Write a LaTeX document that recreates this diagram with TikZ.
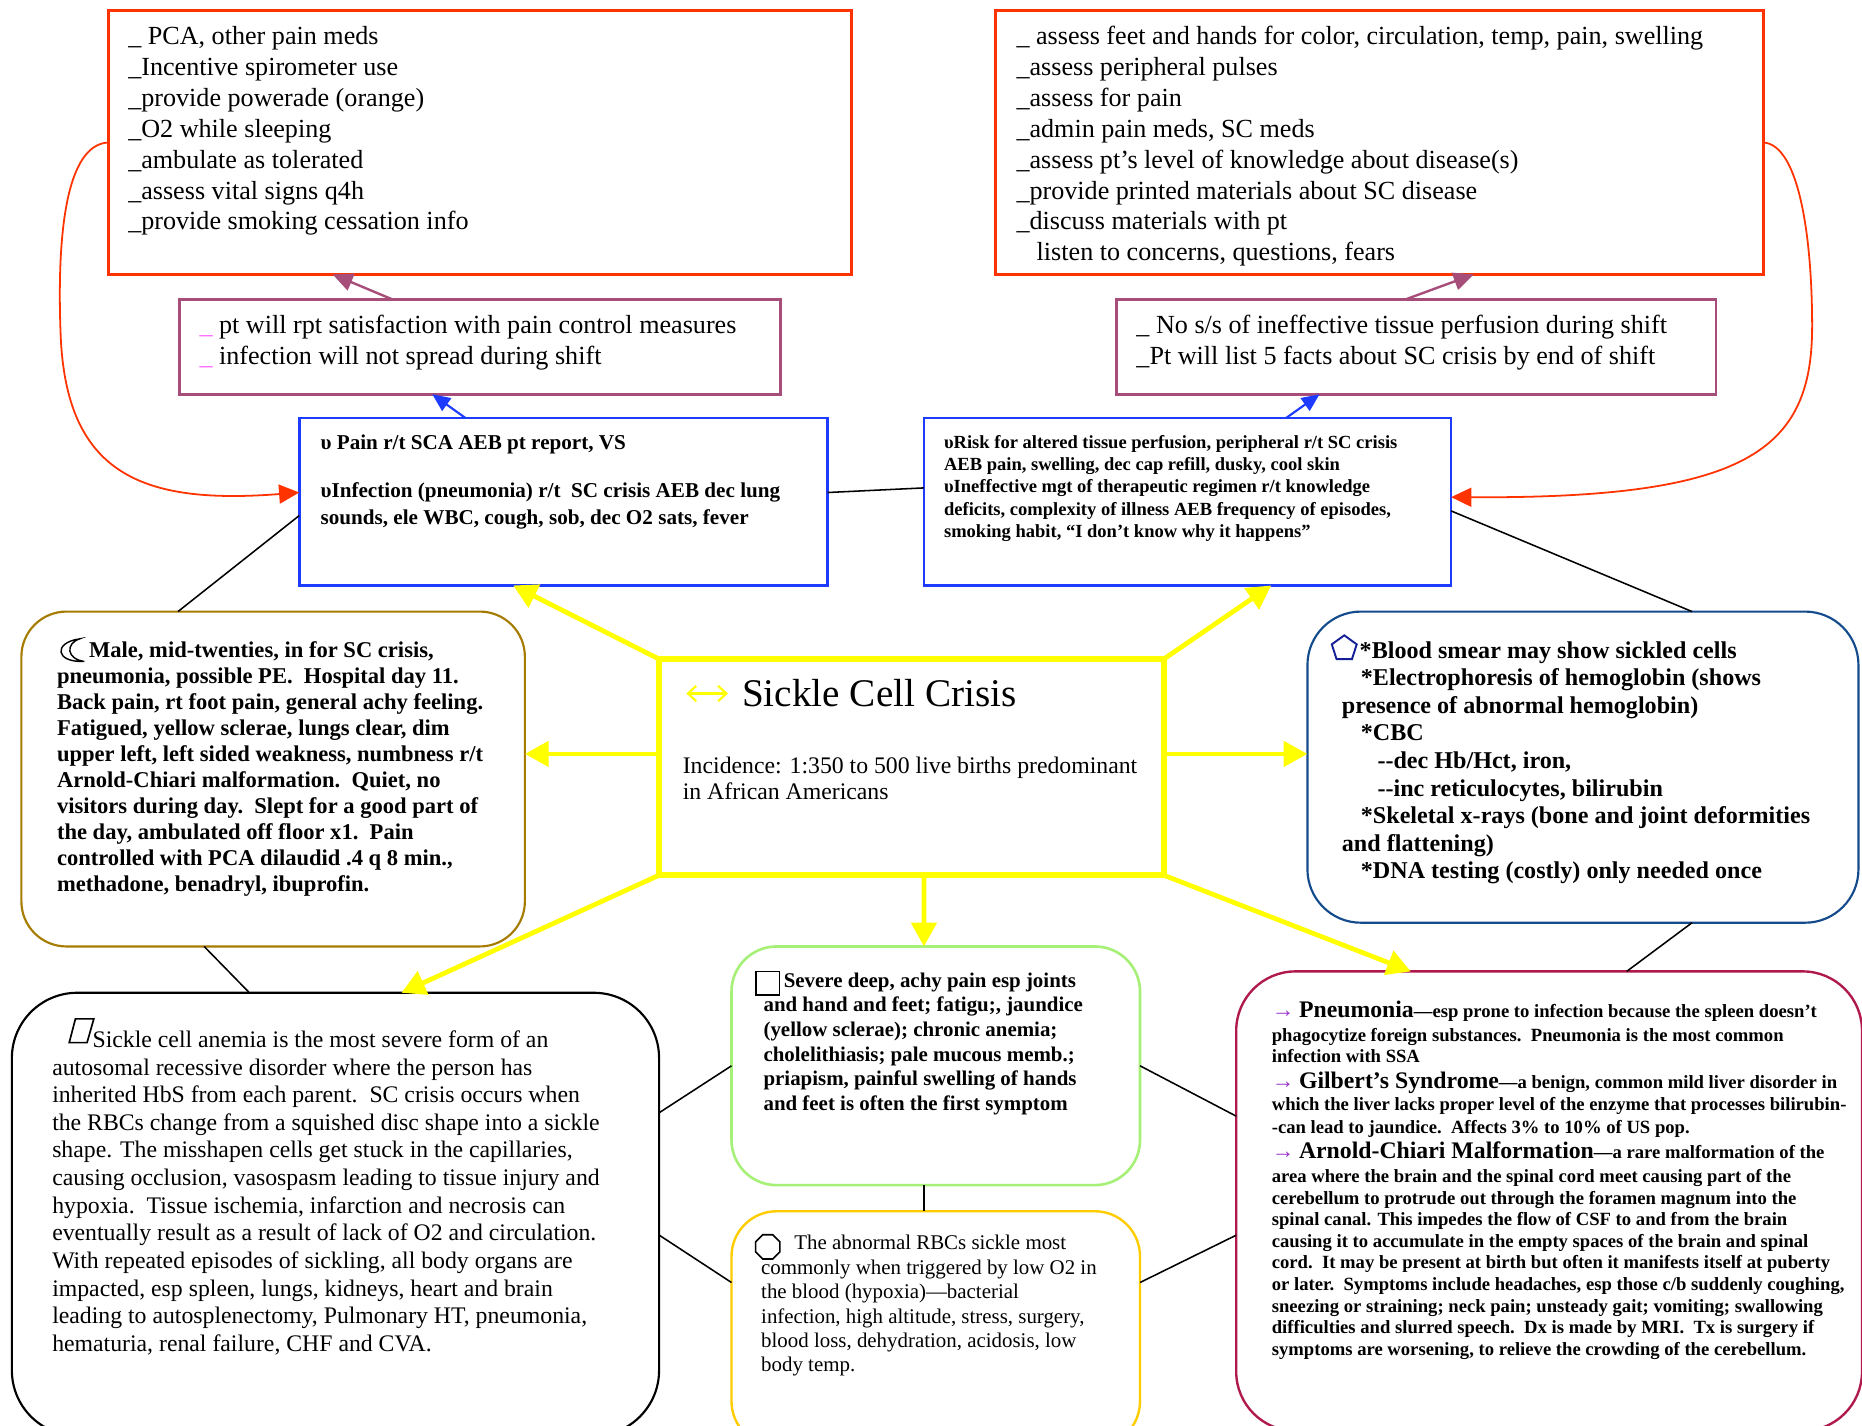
\documentclass[tikz,border=0pt]{standalone}
\usepackage{fontspec}
\setmainfont{Liberation Serif}
\usetikzlibrary{arrows.meta,calc}
\definecolor{cRed}{RGB}{255,51,0}
\definecolor{cPurp}{RGB}{166,77,121}
\definecolor{cBlue}{RGB}{30,60,255}
\definecolor{cYel}{RGB}{255,255,0}
\definecolor{cBrown}{RGB}{166,124,0}
\definecolor{cNavy}{RGB}{20,75,140}
\definecolor{cGreen}{RGB}{166,240,120}
\definecolor{cGold}{RGB}{255,204,0}
\definecolor{cCrim}{RGB}{175,25,75}
\definecolor{cPink}{RGB}{255,102,255}
\definecolor{cArr}{RGB}{153,51,204}
\definecolor{cPent}{RGB}{20,30,150}
\newcommand\mystrut{\rule{0pt}{1em}}
\newcommand\fs[2]{\fontsize{#1bp}{#2bp}\selectfont}
\begin{document}
\begin{tikzpicture}[x=1bp,y=-1bp,
 bx/.style={inner sep=0pt, outer sep=0pt, anchor=north west},
 redbx/.style={bx, draw=cRed, line width=2.5bp},
 purbx/.style={bx, draw=cPurp, line width=2.2bp},
 blubx/.style={bx, draw=cBlue, line width=2.2bp},
 cenbx/.style={bx, draw=cYel, line width=5bp},
 ptbx/.style={bx, rounded corners=38bp, draw=cBrown, line width=1.8bp},
 labbx/.style={bx, rounded corners=45bp, draw=cNavy, line width=1.8bp},
 sabx/.style={bx, rounded corners=55bp, draw=black, line width=1.8bp},
 grbx/.style={bx, rounded corners=38bp, draw=cGreen, line width=2.2bp},
 orbx/.style={bx, rounded corners=38bp, draw=cGold, line width=2bp},
 cpbx/.style={bx, rounded corners=50bp, draw=cCrim, line width=2bp},
 txt/.style={anchor=north west, inner sep=0pt, outer sep=0pt, align=left},
 yarr/.style={draw=cYel, line width=4bp, -{Triangle[length=20bp,width=21bp]}},
 barr/.style={draw=cBlue, line width=1.8bp, -{Triangle[length=15bp,width=13bp]}},
 parr/.style={draw=cPurp, line width=2bp, -{Triangle[length=17bp,width=15bp]}},
 rarr/.style={draw=cRed, line width=1.5bp, -{Triangle[length=17bp,width=16bp]}},
 kline/.style={draw=black, line width=1.3bp},
 glyph/.style={draw=black, line width=1.4bp}
]
\useasboundingbox (0,0) rectangle (1568,1200);
\clip (0,0) rectangle (1568,1200);
\fill[white] (0,0) rectangle (1568,1200);

% ---------- boxes ----------
\node[redbx, minimum width=626bp, minimum height=222bp] (TLR) at (91,9) {};
\node[redbx, minimum width=647bp, minimum height=222bp] (TRR) at (838,9) {};
\node[purbx, minimum width=506bp, minimum height=80bp] (PL) at (151,252) {};
\node[purbx, minimum width=505bp, minimum height=80bp] (PR) at (940,252) {};
\node[blubx, minimum width=445bp, minimum height=141bp] (BL) at (252,352) {};
\node[blubx, minimum width=444bp, minimum height=141bp] (BR) at (778,352) {};
\node[cenbx, minimum width=425bp, minimum height=182bp] (C) at (555,555) {};
\node[ptbx, minimum width=424bp, minimum height=282bp] (PT) at (18,515) {};
\node[labbx, minimum width=464bp, minimum height=262bp] (LB) at (1101,515) {};
\node[sabx, minimum width=545bp, minimum height=373bp] (SA) at (10,836) {};
\node[grbx, minimum width=344bp, minimum height=201bp] (G) at (616,797) {};
\node[orbx, minimum width=344bp, minimum height=198bp] (O) at (616,1020) {};
\node[cpbx, minimum width=527bp, minimum height=387bp] (CP) at (1041,818) {};

% ---------- texts ----------
\node[txt, font=\fs{22}{26}] (TLRt) at (108,15.6) {\mystrut\_ PCA, other pain meds\\
\_Incentive spirometer use\\
\_provide powerade (orange)\\
\_O2 while sleeping\\
\_ambulate as tolerated\\
\_assess vital signs q4h\\
\_provide smoking cessation info};

\node[txt, font=\fs{22}{26}] (TRRt) at (856,15.6) {\mystrut\_ assess feet and hands for color, circulation, temp, pain, swelling\\
\_assess peripheral pulses\\
\_assess for pain\\
\_admin pain meds, SC meds\\
\_assess pt’s level of knowledge about disease(s)\\
\_provide printed materials about SC disease\\
\_discuss materials with pt\\
\hspace*{17bp}listen to concerns, questions, fears};

\node[txt, font=\fs{22}{26}] (PLt) at (168,258.6) {\mystrut{\color{cPink}\_} pt will rpt satisfaction with pain control measures\\
{\color{cPink}\_} infection will not spread during shift};

\node[txt, font=\fs{22}{26}] (PRt) at (957,258.6) {\mystrut\_ No s/s of ineffective tissue perfusion during shift\\
\_Pt will list 5 facts about SC crisis by end of shift};

\node[txt, font=\bfseries\fs{17.8}{22}] (BLt) at (270,360.5) {\mystrut υ Pain r/t SCA AEB pt report, VS\\[19bp]
υInfection (pneumonia) r/t\ \ SC crisis AEB dec lung\\
sounds, ele WBC, cough, sob, dec O2 sats, fever};

\node[txt, font=\bfseries\fs{15.6}{18.7}] (BRt) at (795,362) {\mystrut υRisk for altered tissue perfusion, peripheral r/t SC crisis\\
AEB pain, swelling, dec cap refill, dusky, cool skin\\
υIneffective mgt of therapeutic regimen r/t knowledge\\
deficits, complexity of illness AEB frequency of episodes,\\
smoking habit, “I don’t know why it happens”};

\draw[draw=cYel, line width=1.8bp, {Straight Barb[length=7bp,width=13bp]}-{Straight Barb[length=7bp,width=13bp]}] (578,584) -- (613,584);
\node[txt, font=\fs{33}{36}] (Ct) at (625,561.9) {\mystrut Sickle Cell Crisis};
\node[txt, font=\fs{20}{22.5}] (Ci) at (575,631) {\mystrut Incidence: 1:350 to 500 live births predominant\\
in African Americans};

\node[txt, font=\bfseries\fs{19}{21.9}] (PTt) at (48,534.7) {\mystrut\hspace*{27bp}Male, mid-twenties, in for SC crisis,\\
pneumonia, possible PE.\ \ Hospital day 11.\\
Back pain, rt foot pain, general achy feeling.\\
Fatigued, yellow sclerae, lungs clear, dim\\
upper left, left sided weakness, numbness r/t\\
Arnold-Chiari malformation.\ \ Quiet, no\\
visitors during day.\ \ Slept for a good part of\\
the day, ambulated off floor x1.\ \ Pain\\
controlled with PCA dilaudid .4 q 8 min.,\\
methadone, benadryl, ibuprofin.};

\node[txt, font=\bfseries\fs{20.3}{23.25}] (LBt) at (1130,533.8) {\mystrut\hspace*{15bp}*Blood smear may show sickled cells\\
\hspace*{16bp}*Electrophoresis of hemoglobin (shows\\
presence of abnormal hemoglobin)\\
\hspace*{16bp}*CBC\\
\hspace*{30bp}-{}-dec Hb/Hct, iron,\\
\hspace*{30bp}-{}-inc reticulocytes, bilirubin\\
\hspace*{16bp}*Skeletal x-rays (bone and joint deformities\\
and flattening)\\
\hspace*{16bp}*DNA testing (costly) only needed once};

\node[txt, font=\fs{20}{23.27}] (SAt) at (44,862) {\mystrut\hspace*{34bp}Sickle cell anemia is the most severe form of an\\
autosomal recessive disorder where the person has\\
inherited HbS from each parent.\ \ SC crisis occurs when\\
the RBCs change from a squished disc shape into a sickle\\
shape. The misshapen cells get stuck in the capillaries,\\
causing occlusion, vasospasm leading to tissue injury and\\
hypoxia.\ \ Tissue ischemia, infarction and necrosis can\\
eventually result as a result of lack of O2 and circulation.\\
With repeated episodes of sickling, all body organs are\\
impacted, esp spleen, lungs, kidneys, heart and brain\\
leading to autosplenectomy, Pulmonary HT, pneumonia,\\
hematuria, renal failure, CHF and CVA.};

\node[txt, font=\bfseries\fs{17.6}{20.8}] (Gt) at (643,813.7) {\mystrut\hspace*{17bp}Severe deep, achy pain esp joints\\
and hand and feet; fatigu;, jaundice\\
(yellow sclerae); chronic anemia;\\
cholelithiasis; pale mucous memb.;\\
priapism, painful swelling of hands\\
and feet is often the first symptom};

\node[txt, font=\fs{17.6}{20.6}] (Ot) at (641,1034.7) {\mystrut\hspace*{28bp}The abnormal RBCs sickle most\\
commonly when triggered by low O2 in\\
the blood (hypoxia)—bacterial\\
infection, high altitude, stress, surgery,\\
blood loss, dehydration, acidosis, low\\
body temp.};

\node[txt, font=\bfseries\fs{15.7}{18.2}] (CPt) at (1071,841) {\mystrut{\mdseries\fs{19}{18}\color{cArr}→} {\fs{20}{18}Pneumonia}—esp prone to infection because the spleen doesn’t\\[2bp]
phagocytize foreign substances.\ \ Pneumonia is the most common\\[-0.5bp]
infection with SSA\\[3.4bp]
{\fs{19}{18}\color{cArr}→} {\fs{20}{18}Gilbert’s Syndrome}—a benign, common mild liver disorder in\\[0.9bp]
which the liver lacks proper level of the enzyme that processes bilirubin-\\[0.9bp]
-can lead to jaundice.\ \ Affects 3\% to 10\% of US pop.\\[2.8bp]
{\fs{19}{18}\color{cArr}→} {\fs{20}{18}Arnold-Chiari Malformation}—a rare malformation of the\\[2.1bp]
area where the brain and the spinal cord meet causing part of the\\
cerebellum to protrude out through the foramen magnum into the\\
spinal canal. This impedes the flow of CSF to and from the brain\\
causing it to accumulate in the empty spaces of the brain and spinal\\
cord.\ \ It may be present at birth but often it manifests itself at puberty\\
or later.\ \ Symptoms include headaches, esp those c/b suddenly coughing,\\
sneezing or straining; neck pain; unsteady gait; vomiting; swallowing\\
difficulties and slurred speech.\ \ Dx is made by MRI.\ \ Tx is surgery if\\
symptoms are worsening, to relieve the crowding of the cerebellum.};

% ---------- bullet glyphs ----------
\draw[glyph, line width=1.2bp] (67,538) .. controls (45,541) and (46,558) .. (71,557)
  .. controls (56,555) and (55,542) .. (67,538) -- cycle;
\draw[draw=cPent, line width=1.6bp] (1132,535) -- (1121.5,542.6) -- (1125.5,555) -- (1138.5,555) -- (1142.5,542.6) -- cycle;
\draw[glyph] (63.5,858) -- (79,858) -- (73.3,878) -- (58.3,878) -- cycle;
\draw[glyph] (636.5,818) rectangle (656.5,838);
\draw[glyph] (642.3,1039.8) -- (650.7,1039.8) -- (656.7,1045.8) -- (656.7,1054.2) -- (650.7,1060.2) -- (642.3,1060.2) -- (636.3,1054.2) -- (636.3,1045.8) -- cycle;

% ---------- connectors ----------
% yellow from the centre
\draw[yarr] (C.north west) -- (BL.239);
\draw[yarr] (C.north east) -- (BR.-45);
\draw[yarr] (C.177) -- (PT.east |- C.177);
\draw[yarr] (C.3) -- (LB.west |- C.3);
\draw[yarr] ($(C.south west)!0.525!(C.south east)$) -- ($(G.north west)!0.471!(G.north east)$);
\draw[yarr] (C.south west) -- ($(SA.north west)!0.602!(SA.north east)$);
\draw[yarr] (C.south east) -- ($(CP.north west)!0.279!(CP.north east)$);

% blue and purple
\draw[barr] ($(BL.north west)!0.3146!(BL.north east)$) -- ($(PL.south west)!0.421!(PL.south east)$);
\draw[barr] ($(BR.north west)!0.687!(BR.north east)$) -- ($(PR.south west)!0.339!(PR.south east)$);
\draw[parr] ($(PL.north west)!0.354!(PL.north east)$) -- ($(TLR.south west)!0.302!(TLR.south east)$);
\draw[parr] ($(PR.north west)!0.483!(PR.north east)$) -- ($(TRR.south west)!0.623!(TRR.south east)$);

% red curves
\draw[rarr] (TLR.west) .. controls (55,122) and (48,200) .. (51,280)
  .. controls (55,400) and (120,425) .. (BL.178);
\draw[rarr] (TRR.east) .. controls (1515,122) and (1526,200) .. (1526,275)
  .. controls (1526,380) and (1470,420) .. (BR.1.7);

% black lines
\draw[kline] (BL.2.4) -- (BR.177.6);
\draw[kline] (BL.183) -- ($(PT.north west)!0.311!(PT.north east)$);
\draw[kline] (BR.-2.7) -- ($(LB.north west)!0.698!(LB.north east)$);
\draw[kline] ($(PT.south west)!0.363!(PT.south east)$) -- ($(SA.north west)!0.367!(SA.north east)$);
\draw[kline] ($(LB.south west)!0.698!(LB.south east)$) -- ($(CP.north west)!0.624!(CP.north east)$);
\draw[kline] ($(SA.north east)!0.271!(SA.south east)$) -- (G.west);
\draw[kline] ($(SA.north east)!0.547!(SA.south east)$) -- ($(O.north west)!0.303!(O.south west)$);
\draw[kline] (G.east) -- ($(CP.north west)!0.315!(CP.south west)$);
\draw[kline] ($(O.north east)!0.303!(O.south east)$) -- ($(CP.north west)!0.574!(CP.south west)$);
\draw[kline] ($(G.south west)!0.471!(G.south east)$) -- ($(O.north west)!0.471!(O.north east)$);
\end{tikzpicture}
\end{document}
